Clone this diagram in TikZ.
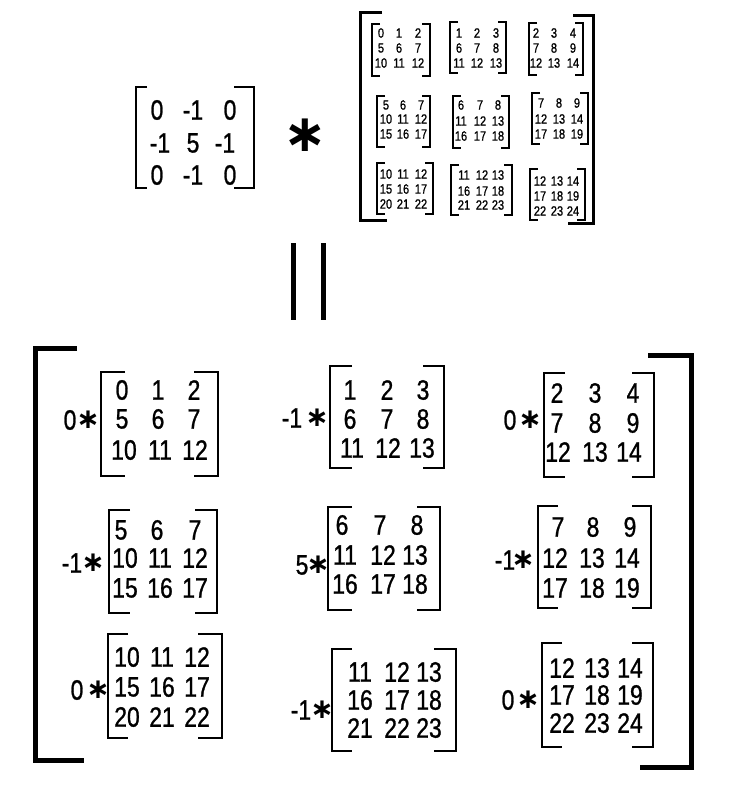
\documentclass[tikz,border=0pt]{standalone}
\usepackage{fontspec}
\setmainfont{Liberation Sans}
\newfontfamily\narrowfont[FakeStretch=0.82,FakeBold=0.9]{Liberation Sans}
\newfontfamily\symfont{DejaVu Sans}
\tikzset{
  bigtxt/.style={font=\narrowfont\fontsize{28}{28}\selectfont, inner sep=0pt},
  kertxt/.style={font=\narrowfont\fontsize{28}{28}\selectfont, inner sep=0pt},
  smalltxt/.style={font=\narrowfont\fontsize{13.5}{13.5}\selectfont, inner sep=0pt},
  multstar/.style={font=\symfont\bfseries\fontsize{28}{28}\selectfont, inner sep=0pt},
  bigmultstar/.style={font=\symfont\bfseries\fontsize{52}{52}\selectfont, inner sep=0pt},
  kerbrk/.style={line width=2pt, line join=miter},
  smallbrk/.style={line width=1.3pt, line join=miter},
  midbrk/.style={line width=2.7pt, line join=miter},
  outerbrk/.style={line width=3pt, line join=miter},
  hugebrk/.style={line width=5pt, line join=miter},
}
% #1 style, #2 left x, #3 right x, #4 top, #5 bottom, #6 left serif, #7 right serif
\newcommand{\mybrackets}[7]{%
  \draw[#1] (#2+#6,#4) -- (#2,#4) -- (#2,#5) -- (#2+#6,#5);
  \draw[#1] (#3-#7,#4) -- (#3,#4) -- (#3,#5) -- (#3-#7,#5);}
% #1 style, #2 name prefix, #3 y, #4 list x/text
\newcommand{\mrow}[4]{%
  \foreach \xx/\ee [count=\ci] in {#4} {\node[#1] (#2-\ci) at (\xx,#3) {\ee};}}
\begin{document}
\begin{tikzpicture}[x=1pt,y=-1pt]
\useasboundingbox (0,0) rectangle (751,808);
\fill[white] (0,0) rectangle (751,808);

% ---- kernel ----
\mybrackets{kerbrk}{136}{254}{87}{188}{11}{20}
\mrow{kertxt}{K1}{110}{157/0,193/-1,230/0}
\mrow{kertxt}{K2}{143}{160/-1,193/5,225/-1}
\mrow{kertxt}{K3}{175}{157/0,193/-1,230/0}
\node[bigmultstar] (op) at (305,135) {∗};

% ---- top right matrix of patches ----
\draw[outerbrk] (382,13) -- (360,13) -- (360,220) -- (387,220);
\draw[outerbrk] (573,16) -- (593,16) -- (593,223) -- (568,223);

\mybrackets{smallbrk}{372}{430}{24}{76}{8}{8}
\mrow{smalltxt}{A00a}{33}{381/0,399/1,418/2}
\mrow{smalltxt}{A00b}{48}{381/5,399/6,418/7}
\mrow{smalltxt}{A00c}{63}{381/10,399/11,418/12}

\mybrackets{smallbrk}{450}{506}{22}{73}{8}{8}
\mrow{smalltxt}{A01a}{33}{459/1,477/2,496/3}
\mrow{smalltxt}{A01b}{48}{459/6,477/7,496/8}
\mrow{smalltxt}{A01c}{63}{459/11,477/12,496/13}

\mybrackets{smallbrk}{529}{583}{23}{75}{8}{8}
\mrow{smalltxt}{A02a}{33}{536/2,554/3,573/4}
\mrow{smalltxt}{A02b}{48}{536/7,554/8,573/9}
\mrow{smalltxt}{A02c}{63}{536/12,554/13,573/14}

\mybrackets{smallbrk}{377}{430}{96}{147}{8}{8}
\mrow{smalltxt}{A10a}{105}{386/5,403/6,421/7}
\mrow{smalltxt}{A10b}{119}{386/10,403/11,421/12}
\mrow{smalltxt}{A10c}{134}{386/15,403/16,421/17}

\mybrackets{smallbrk}{453}{509}{96}{148}{8}{8}
\mrow{smalltxt}{A11a}{105}{461/6,480/7,498/8}
\mrow{smalltxt}{A11b}{121}{461/11,480/12,498/13}
\mrow{smalltxt}{A11c}{136}{461/16,480/17,498/18}

\mybrackets{smallbrk}{532}{588}{93}{144}{8}{8}
\mrow{smalltxt}{A12a}{103}{541/7,559/8,577/9}
\mrow{smalltxt}{A12b}{119}{541/12,559/13,577/14}
\mrow{smalltxt}{A12c}{134}{541/17,559/18,577/19}

\mybrackets{smallbrk}{377}{433}{163}{214}{8}{8}
\mrow{smalltxt}{A20a}{174}{386/10,403/11,421/12}
\mrow{smalltxt}{A20b}{189}{386/15,403/16,421/17}
\mrow{smalltxt}{A20c}{204}{386/20,403/21,421/22}

\mybrackets{smallbrk}{451}{512}{165}{215}{8}{8}
\mrow{smalltxt}{A21a}{175}{464/11,482/12,498/13}
\mrow{smalltxt}{A21b}{191}{464/16,482/17,498/18}
\mrow{smalltxt}{A21c}{205}{464/21,482/22,498/23}

\mybrackets{smallbrk}{530}{585}{169}{220}{8}{8}
\mrow{smalltxt}{A22a}{181}{540/12,557/13,573/14}
\mrow{smalltxt}{A22b}{196}{540/17,557/18,573/19}
\mrow{smalltxt}{A22c}{211}{540/22,557/23,573/24}

% ---- rotated equals sign ----
\draw[line width=5pt] (293,243) -- (293,320);
\draw[line width=5pt] (323,243) -- (323,320);

% ---- big result matrix ----
\draw[hugebrk] (77,348) -- (35,348) -- (35,760) -- (84,760);
\draw[hugebrk] (648,355) -- (691,355) -- (691,767) -- (640,767);

% B00
\node[bigtxt] (c00) at (70,420) {0};
\node[multstar] (s00) at (88,420) {∗};
\mybrackets{midbrk}{101}{218}{372}{476}{24}{24}
\mrow{bigtxt}{B00a}{390}{122/0,158/1,194/2}
\mrow{bigtxt}{B00b}{419}{122/5,158/6,194/7}
\mrow{bigtxt}{B00c}{450}{124/10,160/11,195/12}

% B01
\node[bigtxt] (c01) at (292,418) {-1};
\node[multstar] (s01) at (317,418) {∗};
\mybrackets{midbrk}{330}{444}{366}{468}{22}{21}
\mrow{bigtxt}{B01a}{390}{350/1,387/2,423/3}
\mrow{bigtxt}{B01b}{419}{350/6,387/7,423/8}
\mrow{bigtxt}{B01c}{448}{352/11,388/12,422/13}

% B02
\node[bigtxt] (c02) at (510,420) {0};
\node[multstar] (s02) at (530,420) {∗};
\mybrackets{midbrk}{544}{654}{373}{477}{21}{22}
\mrow{bigtxt}{B02a}{393}{557/2,595/3,633/4}
\mrow{bigtxt}{B02b}{423}{557/7,595/8,633/9}
\mrow{bigtxt}{B02c}{452}{558/12,595/13,629/14}

% B10
\node[bigtxt] (c10) at (72,563) {-1};
\node[multstar] (s10) at (93,563) {∗};
\mybrackets{midbrk}{109}{217}{510}{613}{21}{22}
\mrow{bigtxt}{B10a}{530}{121/5,157/6,195/7}
\mrow{bigtxt}{B10b}{558}{125/10,160/11,195/12}
\mrow{bigtxt}{B10c}{588}{125/15,160/16,195/17}

% B11
\node[bigtxt] (c11) at (302,565) {5};
\node[multstar] (s11) at (318,565) {∗};
\mybrackets{midbrk}{328}{440}{507}{610}{24}{23}
\mrow{bigtxt}{B11a}{525}{342/6,380/7,417/8}
\mrow{bigtxt}{B11b}{555}{345/11,383/12,415/13}
\mrow{bigtxt}{B11c}{584}{345/16,383/17,415/18}

% B12
\node[bigtxt] (c12) at (505,560) {-1};
\node[multstar] (s12) at (523,560) {∗};
\mybrackets{midbrk}{538}{651}{506}{608}{20}{19}
\mrow{bigtxt}{B12a}{527}{558/7,593/8,630/9}
\mrow{bigtxt}{B12b}{558}{555/12,592/13,627/14}
\mrow{bigtxt}{B12c}{588}{555/17,592/18,627/19}

% B20
\node[bigtxt] (c20) at (77,690) {0};
\node[multstar] (s20) at (98,690) {∗};
\mybrackets{midbrk}{108}{222}{634}{738}{20}{24}
\mrow{bigtxt}{B20a}{657}{127/10,162/11,197/12}
\mrow{bigtxt}{B20b}{687}{127/15,162/16,197/17}
\mrow{bigtxt}{B20c}{717}{127/20,162/21,197/22}

% B21
\node[bigtxt] (c21) at (301,710) {-1};
\node[multstar] (s21) at (322,710) {∗};
\mybrackets{midbrk}{332}{456}{649}{751}{20}{22}
\mrow{bigtxt}{B21a}{672}{360/11,397/12,429/13}
\mrow{bigtxt}{B21b}{700}{360/16,397/17,429/18}
\mrow{bigtxt}{B21c}{728}{360/21,397/22,429/23}

% B22
\node[bigtxt] (c22) at (508,700) {0};
\node[multstar] (s22) at (528,700) {∗};
\mybrackets{midbrk}{542}{653}{643}{747}{20}{21}
\mrow{bigtxt}{B22a}{668}{562/12,597/13,630/14}
\mrow{bigtxt}{B22b}{695}{562/17,597/18,630/19}
\mrow{bigtxt}{B22c}{723}{562/22,597/23,630/24}
\end{tikzpicture}
\end{document}
